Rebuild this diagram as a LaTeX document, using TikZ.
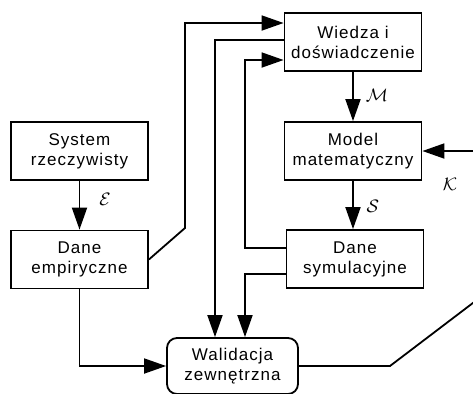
\documentclass[tikz,border=0pt]{standalone}
\usepackage[no-math]{fontspec}
\setmainfont{Liberation Sans}[LetterSpace=6]
\usepackage{amsmath}
\usetikzlibrary{arrows.meta}

\begin{document}
\begin{tikzpicture}[x=0.5pt,y=-0.5pt,line width=0.9pt,
  box/.style={draw,minimum width=68.5pt,minimum height=29pt,align=center,
    inner sep=1pt,font=\fontsize{8.5}{10}\selectfont},
  arr/.style={-{Triangle[length=11pt,width=7.5pt]}},
  lbl/.style={font=\small}]
\useasboundingbox (0,0) rectangle (473,393);
\clip (0,0) rectangle (473,393);

% blocks
\node[box] (wiedza) at (353,42) {Wiedza i\\doświadczenie};
\node[box] (model) at (353,151) {Model\\matematyczny};
\node[box] (system) at (79.5,151) {System\\rzeczywisty};
\node[box] (empir) at (79.5,259.5) {Dane\\empiryczne};
\node[box] (symul) at (355,259) {Dane\\symulacyjne};
\node[box,rounded corners=5pt,minimum width=65.5pt,minimum height=28pt]
  (walid) at (232.5,366) {Walidacja\\zewnętrzna};

% main chain
\draw[arr] (wiedza) -- (model);
\draw[arr] (model.south) -- (model.south |- symul.north);
\draw[arr] (system) -- (empir);

% feedback lines
\draw[arr] (empir.east) -- (185,228) |- (wiedza.west |- 0,23);
\draw[arr] (wiedza.west |- 0,40) -| (walid.north -| 215,0);
\draw[arr] (symul.west |- 0,248) -| (245,60) -- (wiedza.west |- 0,60);
\draw[arr] (symul.west |- 0,274) -| (walid.north -| 245,0);
\draw[arr] (empir.south) |- (walid.west);
\draw[arr] (walid.east) -- (390,366) -- (490,290) |- (model.east);

% labels
\node[lbl] (lm) at (377,95) {$\mathcal{M}$};
\node[lbl] (le) at (105,199) {$\mathcal{E}$};
\node[lbl] (ls) at (373,206) {$\mathcal{S}$};
\node[lbl] (lk) at (450,184) {$\mathcal{K}$};
\end{tikzpicture}
\end{document}
